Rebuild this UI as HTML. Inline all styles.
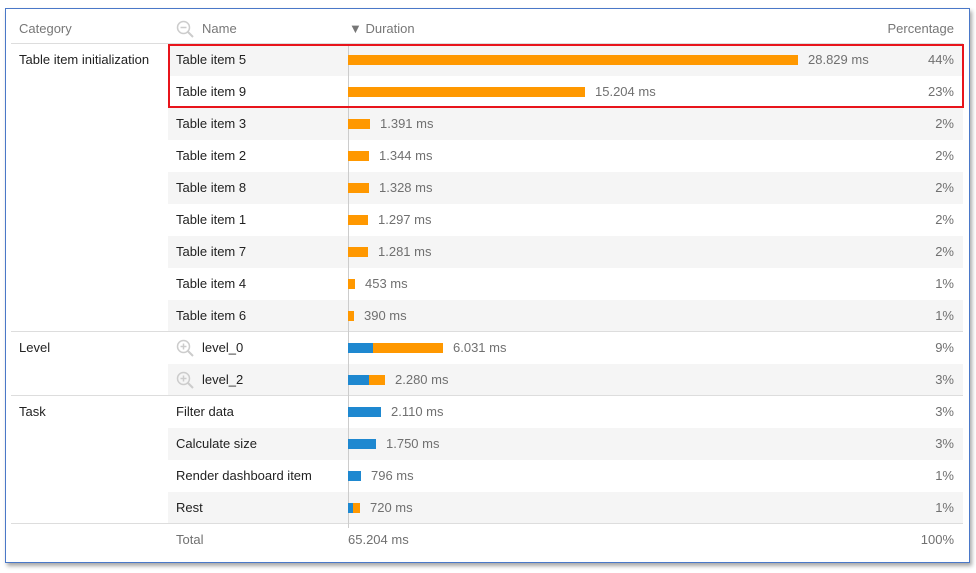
<!DOCTYPE html>
<html><head><style>
body{margin:0;width:976px;height:573px;background:#fff;font-family:"Liberation Sans",sans-serif;font-size:13px;position:relative;overflow:hidden}
.frame{position:absolute;left:5px;top:8px;width:963px;height:553px;border:1px solid #4a78c8;box-shadow:2px 3px 4px rgba(0,0,0,.35);background:#fff}
.a{position:absolute;white-space:nowrap}
.row{position:absolute;left:168px;width:795px;height:32px}
.sh{background:#f5f5f5}
.bar{position:absolute;height:10px}
.o{background:#ff9800}.b{background:#1e88d0}
.t{color:#222}.g{color:#707070}.h{color:#777}
.hl{position:absolute;height:1px;background:#ddd}
</style></head><body>
<div class="frame"></div>
<div class="a h" style="left:19px;top:21px">Category</div>
<svg class="a" style="left:176px;top:20px" width="18" height="18"><circle cx="7.5" cy="7.5" r="6" fill="none" stroke="#ccc" stroke-width="1.5"/><line x1="12" y1="12" x2="17" y2="17" stroke="#ccc" stroke-width="2"/><line x1="4.5" y1="7.5" x2="10.5" y2="7.5" stroke="#ccc" stroke-width="1.5"/></svg>
<div class="a h" style="left:202px;top:21px">Name</div>
<div class="a h" style="left:349px;top:21px">▼ Duration</div>
<div class="a h" style="right:22px;top:21px">Percentage</div>
<div class="hl" style="left:11px;top:43px;width:952px"></div>

<div class="row sh" style="top:44px"></div>
<div class="row sh" style="top:108px"></div>
<div class="row sh" style="top:172px"></div>
<div class="row sh" style="top:236px"></div>
<div class="row sh" style="top:300px"></div>
<div class="row sh" style="top:364px"></div>
<div class="row sh" style="top:428px"></div>
<div class="row sh" style="top:492px"></div>

<div class="hl" style="left:11px;top:331px;width:952px"></div>
<div class="hl" style="left:11px;top:395px;width:952px"></div>
<div class="hl" style="left:11px;top:523px;width:952px"></div>
<div class="a" style="left:348px;top:44px;width:1px;height:484px;background:#ccc"></div>

<div class="a t" style="left:19px;top:52px">Table item initialization</div>
<div class="a t" style="left:19px;top:340px">Level</div>
<div class="a t" style="left:19px;top:404px">Task</div>

<div id="rows"></div>
<script>
var d=[
["Table item 5",[[0,450,'o']],"28.829 ms","44%"],
["Table item 9",[[0,237,'o']],"15.204 ms","23%"],
["Table item 3",[[0,22,'o']],"1.391 ms","2%"],
["Table item 2",[[0,21,'o']],"1.344 ms","2%"],
["Table item 8",[[0,21,'o']],"1.328 ms","2%"],
["Table item 1",[[0,20,'o']],"1.297 ms","2%"],
["Table item 7",[[0,20,'o']],"1.281 ms","2%"],
["Table item 4",[[0,7,'o']],"453 ms","1%"],
["Table item 6",[[0,6,'o']],"390 ms","1%"],
["level_0",[[0,25,'b'],[25,70,'o']],"6.031 ms","9%",1],
["level_2",[[0,21,'b'],[21,16,'o']],"2.280 ms","3%",1],
["Filter data",[[0,33,'b']],"2.110 ms","3%"],
["Calculate size",[[0,28,'b']],"1.750 ms","3%"],
["Render dashboard item",[[0,13,'b']],"796 ms","1%"],
["Rest",[[0,5,'b'],[5,7,'o']],"720 ms","1%"]];
var h='';
d.forEach(function(r,i){var y=44+i*32;var tx=y+8;
 if(r[4]){h+='<svg class="a" style="left:176px;top:'+(y+7)+'px" width="18" height="18"><circle cx="7.5" cy="7.5" r="6" fill="none" stroke="#ccc" stroke-width="1.5"/><line x1="12" y1="12" x2="17" y2="17" stroke="#ccc" stroke-width="2"/><line x1="4.5" y1="7.5" x2="10.5" y2="7.5" stroke="#ccc" stroke-width="1.5"/><line x1="7.5" y1="4.5" x2="7.5" y2="10.5" stroke="#ccc" stroke-width="1.5"/></svg>';
  h+='<div class="a t" style="left:202px;top:'+tx+'px">'+r[0]+'</div>';}
 else h+='<div class="a t" style="left:176px;top:'+tx+'px">'+r[0]+'</div>';
 var end=0;r[1].forEach(function(b){h+='<div class="bar '+b[2]+'" style="left:'+(348+b[0])+'px;top:'+(y+11)+'px;width:'+b[1]+'px"></div>';end=b[0]+b[1];});
 h+='<div class="a g" style="left:'+(348+end+10)+'px;top:'+tx+'px">'+r[2]+'</div>';
 h+='<div class="a g" style="right:22px;top:'+tx+'px">'+r[3]+'</div>';
});
document.getElementById('rows').innerHTML=h;
</script>
<div class="a g" style="left:176px;top:532px">Total</div>
<div class="a g" style="left:348px;top:532px">65.204 ms</div>
<div class="a g" style="right:22px;top:532px">100%</div>
<div class="a" style="left:168px;top:44px;width:792px;height:60px;border:2px solid #e8141b"></div>
</body></html>
